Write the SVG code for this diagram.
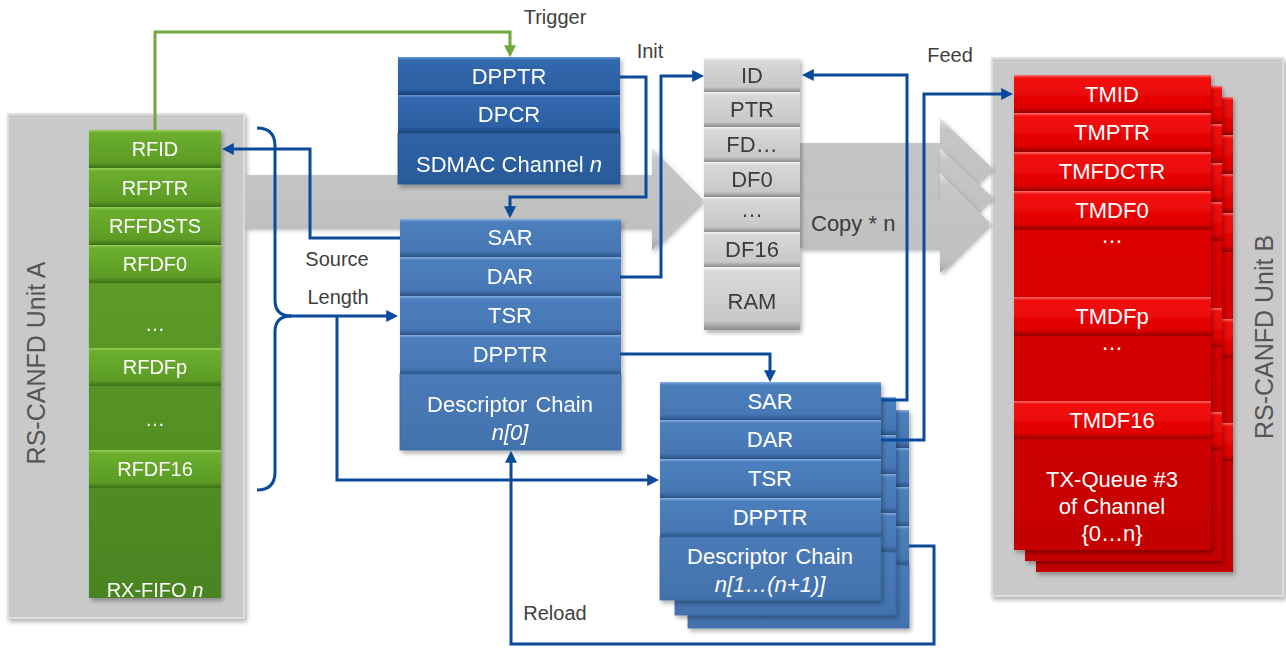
<svg xmlns="http://www.w3.org/2000/svg" xmlns:xlink="http://www.w3.org/1999/xlink" width="1286" height="648" viewBox="0 0 1286 648">
<style>
text{font-family:"Liberation Sans",Arial,sans-serif;}
.cw{fill:#ffffff;font-size:20px;text-anchor:middle;}
.cb{fill:#ffffff;font-size:22px;text-anchor:middle;}
.cr{fill:#ffffff;font-size:22px;text-anchor:middle;}
.cg{fill:#3c3c3c;font-size:22px;text-anchor:middle;}
.lbl{fill:#404040;font-size:20px;text-anchor:middle;}
.unit{fill:#555555;font-size:25px;text-anchor:middle;}
.it{font-style:italic;}
.con{fill:none;stroke:#0b4a9b;stroke-width:3;stroke-linejoin:miter;}
.cong{fill:none;stroke:#6fa83c;stroke-width:3;}
.ubox{fill:#c9c9c9;stroke:#dedede;stroke-width:2;}
</style>
<defs>
<filter id="sh" x="-10%" y="-10%" width="130%" height="130%">
<feDropShadow dx="2" dy="3" stdDeviation="2" flood-color="#000" flood-opacity="0.3"/>
</filter>
<linearGradient id="gCell" x1="0" y1="0" x2="0" y2="1">
<stop offset="0" stop-color="#96d05a"/><stop offset="0.08" stop-color="#6cae2e"/><stop offset="0.85" stop-color="#5c9c25"/><stop offset="1" stop-color="#3c7016"/>
</linearGradient>
<linearGradient id="gCol" x1="0" y1="0" x2="0" y2="1">
<stop offset="0" stop-color="#66a62c"/><stop offset="1" stop-color="#4a8420"/>
</linearGradient>
<linearGradient id="bCell" x1="0" y1="0" x2="0" y2="1">
<stop offset="0" stop-color="#86b0e4"/><stop offset="0.08" stop-color="#4d7fbd"/><stop offset="0.85" stop-color="#4677b4"/><stop offset="1" stop-color="#2b5487"/>
</linearGradient>
<linearGradient id="bCol" x1="0" y1="0" x2="0" y2="1">
<stop offset="0" stop-color="#4a7bb8"/><stop offset="1" stop-color="#4372ad"/>
</linearGradient>
<linearGradient id="dCell" x1="0" y1="0" x2="0" y2="1">
<stop offset="0" stop-color="#6298d8"/><stop offset="0.08" stop-color="#3368ae"/><stop offset="0.85" stop-color="#2c60a4"/><stop offset="1" stop-color="#1a3f72"/>
</linearGradient>
<linearGradient id="dCol" x1="0" y1="0" x2="0" y2="1">
<stop offset="0" stop-color="#2f64a8"/><stop offset="1" stop-color="#285a99"/>
</linearGradient>
<linearGradient id="rCell" x1="0" y1="0" x2="0" y2="1">
<stop offset="0" stop-color="#ff7070"/><stop offset="0.08" stop-color="#f41010"/><stop offset="0.85" stop-color="#e00000"/><stop offset="1" stop-color="#960000"/>
</linearGradient>
<linearGradient id="rCol" x1="0" y1="0" x2="0" y2="1">
<stop offset="0" stop-color="#e80000"/><stop offset="1" stop-color="#c40000"/>
</linearGradient>
<linearGradient id="mCell" x1="0" y1="0" x2="0" y2="1">
<stop offset="0" stop-color="#f6f6f6"/><stop offset="0.08" stop-color="#d8d8d8"/><stop offset="0.85" stop-color="#c8c8c8"/><stop offset="1" stop-color="#8c8c8c"/>
</linearGradient>
<linearGradient id="aGr" x1="0" y1="0" x2="0" y2="1">
<stop offset="0" stop-color="#e6e6e6"/><stop offset="0.12" stop-color="#c6c6c6"/><stop offset="0.88" stop-color="#bfbfbf"/><stop offset="1" stop-color="#a2a2a2"/>
</linearGradient>
<marker id="ab" viewBox="0 0 10 10" refX="6.5" refY="5" markerWidth="12" markerHeight="12" markerUnits="userSpaceOnUse" orient="auto">
<path d="M0,0 L10,5 L0,10 z" fill="#0b4a9b"/>
</marker>
<marker id="ag" viewBox="0 0 10 10" refX="6.5" refY="5" markerWidth="12" markerHeight="12" markerUnits="userSpaceOnUse" orient="auto">
<path d="M0,0 L10,5 L0,10 z" fill="#6fa83c"/>
</marker>
<g id="blueStackShape">
<rect x="660" y="382" width="221" height="218" fill="url(#bCol)"/>
<rect x="660" y="382" width="221" height="38" fill="url(#bCell)"/>
<rect x="660" y="420" width="221" height="39" fill="url(#bCell)"/>
<rect x="660" y="459" width="221" height="39" fill="url(#bCell)"/>
<rect x="660" y="498" width="221" height="39" fill="url(#bCell)"/>
<rect x="660" y="537" width="221" height="63" fill="url(#bCol)" stroke="#3a679f" stroke-width="0.8"/>
</g>
<g id="redShape">
<rect x="1014" y="75" width="197" height="475" fill="url(#rCol)"/>
<rect x="1014" y="75" width="197" height="38" fill="url(#rCell)"/>
<rect x="1014" y="113" width="197" height="39" fill="url(#rCell)"/>
<rect x="1014" y="152" width="197" height="39" fill="url(#rCell)"/>
<rect x="1014" y="191" width="197" height="39" fill="url(#rCell)"/>
<rect x="1014" y="297" width="197" height="39" fill="url(#rCell)"/>
<rect x="1014" y="401" width="197" height="38" fill="url(#rCell)"/>
</g>
</defs>

<rect width="1286" height="648" fill="#ffffff"/>

<g id="unitA">
<rect class="ubox" x="8" y="114" width="236" height="504" filter="url(#sh)"/>
<text class="unit" transform="translate(45,363) rotate(-90)">RS-CANFD Unit A</text>
</g>

<g id="unitB">
<rect class="ubox" x="992" y="58" width="291" height="538" filter="url(#sh)"/>
<text class="unit" transform="translate(1273,337) rotate(-90)">RS-CANFD Unit B</text>
</g>

<g id="flowArrows">
<polygon points="245,175 652,175 652,148 703,200 652,250 652,227 245,227" fill="url(#aGr)" filter="url(#sh)"/>
<polygon points="800,143 940,143 940,118 992,168 940,218 940,191 800,191" fill="url(#aGr)" filter="url(#sh)"/>
<polygon points="800,173 940,173 940,148 992,197 940,247 940,221 800,221" fill="url(#aGr)" filter="url(#sh)"/>
<polygon points="800,200 940,200 940,173 990,223 940,273 940,248 800,248" fill="url(#aGr)" filter="url(#sh)"/>
<text x="811" y="231" fill="#3c3c3c" font-size="22px">Copy * n</text>
</g>

<g id="rxfifo" filter="url(#sh)">
<rect x="89" y="130" width="132" height="468" fill="url(#gCol)"/>
<rect x="89" y="130" width="132" height="38" fill="url(#gCell)"/>
<rect x="89" y="168" width="132" height="39" fill="url(#gCell)"/>
<rect x="89" y="207" width="132" height="38" fill="url(#gCell)"/>
<rect x="89" y="245" width="132" height="38" fill="url(#gCell)"/>
<rect x="89" y="348" width="132" height="38" fill="url(#gCell)"/>
<rect x="89" y="450" width="132" height="38" fill="url(#gCell)"/>
<text class="cw" x="155" y="156">RFID</text>
<text class="cw" x="155" y="195">RFPTR</text>
<text class="cw" x="155" y="233">RFFDSTS</text>
<text class="cw" x="155" y="271">RFDF0</text>
<text class="cw" x="155" y="331">…</text>
<text class="cw" x="155" y="374">RFDFp</text>
<text class="cw" x="155" y="426">…</text>
<text class="cw" x="155" y="476">RFDF16</text>
<text class="cw" x="155" y="597">RX-FIFO <tspan class="it">n</tspan></text>
</g>

<g id="sdmac" filter="url(#sh)">
<rect x="398" y="57" width="222" height="127" fill="url(#dCol)"/>
<rect x="398" y="57" width="222" height="38" fill="url(#dCell)"/>
<rect x="398" y="95" width="222" height="38" fill="url(#dCell)"/>
<rect x="398" y="133" width="222" height="51" fill="url(#dCol)" stroke="#23508a" stroke-width="0.8"/>
<text class="cb" x="509" y="84">DPPTR</text>
<text class="cb" x="509" y="122">DPCR</text>
<text class="cb" x="509" y="172">SDMAC Channel <tspan class="it">n</tspan></text>
</g>

<g id="desc0" filter="url(#sh)">
<rect x="400" y="219" width="221" height="231" fill="url(#bCol)"/>
<rect x="400" y="219" width="221" height="38" fill="url(#bCell)"/>
<rect x="400" y="257" width="221" height="39" fill="url(#bCell)"/>
<rect x="400" y="296" width="221" height="39" fill="url(#bCell)"/>
<rect x="400" y="335" width="221" height="39" fill="url(#bCell)"/>
<rect x="400" y="374" width="221" height="76" fill="url(#bCol)" stroke="#3a679f" stroke-width="0.8"/>
<text class="cb" x="510" y="245">SAR</text>
<text class="cb" x="510" y="284">DAR</text>
<text class="cb" x="510" y="323">TSR</text>
<text class="cb" x="510" y="362">DPPTR</text>
<text class="cb" x="510" y="412" word-spacing="2">Descriptor Chain</text>
<text class="cb it" x="510" y="440">n[0]</text>
</g>

<g id="descStack">
<use xlink:href="#blueStackShape" href="#blueStackShape" transform="translate(28,28)" filter="url(#sh)"/>
<use xlink:href="#blueStackShape" href="#blueStackShape" transform="translate(15,15)" filter="url(#sh)"/>
<use xlink:href="#blueStackShape" href="#blueStackShape" filter="url(#sh)"/>
<text class="cb" x="770" y="409">SAR</text>
<text class="cb" x="770" y="447">DAR</text>
<text class="cb" x="770" y="486">TSR</text>
<text class="cb" x="770" y="525">DPPTR</text>
<text class="cb" x="770" y="564" word-spacing="2">Descriptor Chain</text>
<text class="cb it" x="770" y="592">n[1…(n+1)]</text>
</g>

<g id="ram" filter="url(#sh)">
<rect x="704" y="58" width="96" height="34" fill="url(#mCell)"/>
<rect x="704" y="92" width="96" height="35" fill="url(#mCell)"/>
<rect x="704" y="127" width="96" height="35" fill="url(#mCell)"/>
<rect x="704" y="162" width="96" height="35" fill="url(#mCell)"/>
<rect x="704" y="197" width="96" height="35" fill="url(#mCell)"/>
<rect x="704" y="232" width="96" height="35" fill="url(#mCell)"/>
<rect x="704" y="267" width="96" height="63" fill="url(#mCell)"/>
<text class="cg" x="752" y="83">ID</text>
<text class="cg" x="752" y="117">PTR</text>
<text class="cg" x="752" y="152">FD…</text>
<text class="cg" x="752" y="187">DF0</text>
<text class="cg" x="752" y="217">…</text>
<text class="cg" x="752" y="257">DF16</text>
<text class="cg" x="752" y="309" font-size="27px">RAM</text>
</g>

<g id="txqueue">
<use xlink:href="#redShape" href="#redShape" transform="translate(22,22)" filter="url(#sh)"/>
<use xlink:href="#redShape" href="#redShape" transform="translate(11,11)" filter="url(#sh)"/>
<use xlink:href="#redShape" href="#redShape" filter="url(#sh)"/>
<text class="cr" x="1112" y="102">TMID</text>
<text class="cr" x="1112" y="140">TMPTR</text>
<text class="cr" x="1112" y="179">TMFDCTR</text>
<text class="cr" x="1112" y="218">TMDF0</text>
<text class="cr" x="1112" y="243" font-size="16px">…</text>
<text class="cr" x="1112" y="324">TMDFp</text>
<text class="cr" x="1112" y="350" font-size="16px">…</text>
<text class="cr" x="1112" y="428">TMDF16</text>
<text class="cr" x="1112" y="487">TX-Queue #3</text>
<text class="cr" x="1112" y="514">of Channel</text>
<text class="cr" x="1112" y="541">{0…n}</text>
</g>

<g id="connectors">
<path class="cong" d="M155,130 V32 H510 V53" marker-end="url(#ag)"/>
<path class="con" d="M400,238 H310 V149 H226" marker-end="url(#ab)"/>
<path class="con" d="M620,77 H646 V197 H510 V214" marker-end="url(#ab)"/>
<path class="con" d="M620,277 H661 V76 H700" marker-end="url(#ab)"/>
<path class="con" d="M257,128 Q275,128 275,146 L275,300 Q275,316 291,316"/>
<path class="con" d="M257,490 Q275,490 275,472 L275,332 Q275,316 291,316"/>
<path class="con" d="M290,316 H394" marker-end="url(#ab)"/>
<path class="con" d="M337,316 V480 H655" marker-end="url(#ab)"/>
<path class="con" d="M620,354 H770 V378" marker-end="url(#ab)"/>
<path class="con" d="M881,400 H907 V75 H806" marker-end="url(#ab)"/>
<path class="con" d="M881,440 H924 V94 H1009" marker-end="url(#ab)"/>
<path class="con" d="M909,546 H934 V644 H511 V455" marker-end="url(#ab)"/>
</g>

<g id="labels">
<text class="lbl" x="555" y="24">Trigger</text>
<text class="lbl" x="650" y="58">Init</text>
<text class="lbl" x="950" y="62">Feed</text>
<text class="lbl" x="337" y="266">Source</text>
<text class="lbl" x="338" y="304">Length</text>
<text class="lbl" x="555" y="620">Reload</text>
</g>
</svg>
